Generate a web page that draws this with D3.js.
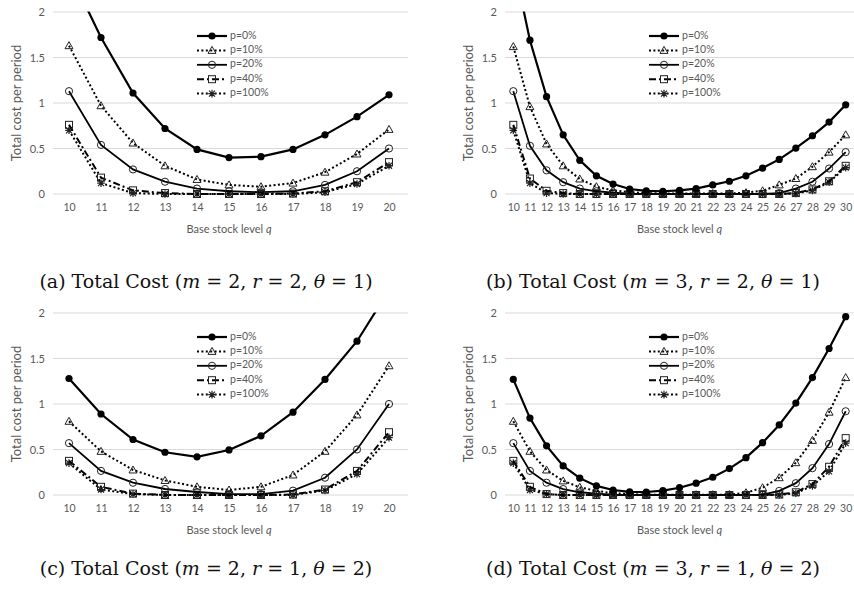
<!DOCTYPE html>
<html>
<head>
<meta charset="utf-8">
<script src="https://cdn.jsdelivr.net/npm/d3@7"></script>
<style>
body { margin: 0; background: #fff; }
text { font-family: Lato, "Open Sans", sans-serif; fill: #595959; }
text.caption { font-family: "DejaVu Serif", serif; fill: #111; }
</style>
</head>
<body>
<script>
// base stock levels
var qShort = [10, 11, 12, 13, 14, 15, 16, 17, 18, 19, 20];
var qLong = [10, 11, 12, 13, 14, 15, 16, 17, 18, 19, 20, 21, 22, 23, 24, 25, 26, 27, 28, 29, 30];

var seriesLabels = ["p=0%", "p=10%", "p=20%", "p=40%", "p=100%"];
var yTicks = [0, 0.5, 1, 1.5, 2];

// (a) m=2, r=2, theta=1
var aP0 = [2.45, 1.72, 1.11, 0.72, 0.49, 0.40, 0.41, 0.49, 0.65, 0.85, 1.09];
var aP10 = [1.63, 0.97, 0.56, 0.31, 0.16, 0.10, 0.08, 0.12, 0.24, 0.44, 0.71];
var aP20 = [1.13, 0.54, 0.27, 0.135, 0.06, 0.03, 0.02, 0.03, 0.10, 0.25, 0.50];
var aP40 = [0.76, 0.18, 0.04, 0.01, 0.0, 0.0, 0.0, 0.005, 0.03, 0.13, 0.35];
var aP100 = [0.70, 0.12, 0.01, 0.0, 0.0, 0.0, 0.0, 0.0, 0.02, 0.11, 0.31];

// (b) m=3, r=2, theta=1
var bP0 = [2.55, 1.69, 1.07, 0.65, 0.37, 0.20, 0.11, 0.055, 0.035, 0.03, 0.04, 0.06, 0.10, 0.14, 0.20, 0.285, 0.38, 0.505, 0.64, 0.79, 0.98];
var bP10 = [1.62, 0.96, 0.55, 0.31, 0.165, 0.08, 0.04, 0.02, 0.01, 0.005, 0.005, 0.005, 0.005, 0.005, 0.015, 0.035, 0.10, 0.17, 0.30, 0.46, 0.65];
var bP20 = [1.13, 0.53, 0.26, 0.13, 0.06, 0.03, 0.015, 0.005, 0.0, 0.0, 0.0, 0.0, 0.0, 0.0, 0.0, 0.0, 0.01, 0.06, 0.135, 0.28, 0.46];
var bP40 = [0.76, 0.17, 0.035, 0.01, 0.0, 0.0, 0.0, 0.0, 0.0, 0.0, 0.0, 0.0, 0.0, 0.0, 0.0, 0.0, 0.0, 0.01, 0.05, 0.14, 0.31];
var bP100 = [0.70, 0.12, 0.01, 0.0, 0.0, 0.0, 0.0, 0.0, 0.0, 0.0, 0.0, 0.0, 0.0, 0.0, 0.0, 0.0, 0.0, 0.005, 0.04, 0.13, 0.29];

// (c) m=2, r=1, theta=2
var cP0 = [1.28, 0.89, 0.61, 0.47, 0.42, 0.495, 0.65, 0.91, 1.27, 1.69, 2.25];
var cP10 = [0.81, 0.48, 0.275, 0.16, 0.09, 0.055, 0.09, 0.22, 0.48, 0.88, 1.42];
var cP20 = [0.57, 0.265, 0.135, 0.066, 0.033, 0.01, 0.01, 0.048, 0.19, 0.50, 1.0];
var cP40 = [0.375, 0.09, 0.015, 0.0, 0.0, 0.0, 0.0, 0.005, 0.06, 0.265, 0.69];
var cP100 = [0.35, 0.06, 0.01, 0.0, 0.0, 0.0, 0.0, 0.0, 0.05, 0.23, 0.63];

// (d) m=3, r=1, theta=2
var dP0 = [1.27, 0.845, 0.54, 0.32, 0.185, 0.10, 0.055, 0.035, 0.033, 0.048, 0.08, 0.13, 0.195, 0.29, 0.41, 0.575, 0.77, 1.01, 1.29, 1.61, 1.96];
var dP10 = [0.81, 0.48, 0.275, 0.155, 0.085, 0.045, 0.02, 0.01, 0.003, 0.003, 0.003, 0.003, 0.003, 0.005, 0.025, 0.08, 0.19, 0.355, 0.60, 0.91, 1.29];
var dP20 = [0.57, 0.265, 0.135, 0.065, 0.03, 0.015, 0.005, 0.0, 0.0, 0.0, 0.0, 0.0, 0.0, 0.0, 0.0, 0.005, 0.045, 0.13, 0.295, 0.56, 0.92];
var dP40 = [0.375, 0.09, 0.01, 0.0, 0.0, 0.0, 0.0, 0.0, 0.0, 0.0, 0.0, 0.0, 0.0, 0.0, 0.0, 0.0, 0.005, 0.03, 0.12, 0.31, 0.625];
var dP100 = [0.35, 0.055, 0.01, 0.0, 0.0, 0.0, 0.0, 0.0, 0.0, 0.0, 0.0, 0.0, 0.0, 0.0, 0.0, 0.0, 0.0, 0.02, 0.10, 0.26, 0.57];

var captions = [
    ["(a) Total Cost (", "m", " = 2, ", "r", " = 2, ", "θ", " = 1)"],
    ["(b) Total Cost (", "m", " = 3, ", "r", " = 2, ", "θ", " = 1)"],
    ["(c) Total Cost (", "m", " = 2, ", "r", " = 1, ", "θ", " = 2)"],
    ["(d) Total Cost (", "m", " = 3, ", "r", " = 1, ", "θ", " = 2)"]
];

var width = 854,
    height = 596;

// panel layout: left/top/width of the plot area
var panels = [
    {left: 53, top: 12, w: 352, q: qShort, series: [aP0, aP10, aP20, aP40, aP100], capX: 206, capY: 283},
    {left: 505, top: 12, w: 349, q: qLong, series: [bP0, bP10, bP20, bP40, bP100], capX: 653, capY: 283},
    {left: 53, top: 313, w: 352, q: qShort, series: [cP0, cP10, cP20, cP40, cP100], capX: 206, capY: 570},
    {left: 505, top: 313, w: 349, q: qLong, series: [dP0, dP10, dP20, dP40, dP100], capX: 653, capY: 570}
];
var plotH = 182;

// line + marker styles per series
var styles = [
    {dash: null, width: 2.2, marker: "dot"},
    {dash: "2,2.4", width: 2, marker: "triangle"},
    {dash: null, width: 1.8, marker: "circle"},
    {dash: "7,3,2,3", width: 2, marker: "square"},
    {dash: "2,2.4", width: 2, marker: "star"}
];

var svg = d3.select("body")
    .append("svg")
    .attr("width", width)
    .attr("height", height);

function drawMarker(g, type, x, y){
    if (type == "dot"){
        g.append("circle").attr("cx", x).attr("cy", y).attr("r", 3.6)
            .attr("fill", "#000");
    } else if (type == "circle"){
        g.append("circle").attr("cx", x).attr("cy", y).attr("r", 3.6)
            .attr("fill", "none").attr("stroke", "#222").attr("stroke-width", 1);
    } else if (type == "triangle"){
        g.append("path")
            .attr("d", "M0,-4L4,3L-4,3Z")
            .attr("transform", "translate(" + x + "," + y + ")")
            .attr("fill", "none").attr("stroke", "#222").attr("stroke-width", 1);
    } else if (type == "square"){
        g.append("rect").attr("x", x - 3.5).attr("y", y - 3.5)
            .attr("width", 7).attr("height", 7)
            .attr("fill", "none").attr("stroke", "#222").attr("stroke-width", 1);
    } else if (type == "star"){
        g.append("path")
            .attr("d", "M-3,-3L3,3M-3,3L3,-3M0,-3.8L0,3.8M-3.8,0L3.8,0")
            .attr("transform", "translate(" + x + "," + y + ")")
            .attr("fill", "none").attr("stroke", "#222").attr("stroke-width", 1.2);
    }
}

panels.forEach(function(p, pi){

    var g = svg.append("g");

    var x = d3.scalePoint()
        .domain(p.q)
        .range([p.left, p.left + p.w])
        .padding(0.5);

    var y = d3.scaleLinear()
        .domain([0, 2])
        .range([p.top + plotH, p.top]);

    //clip so lines stop at the top gridline
    svg.append("clipPath")
        .attr("id", "clip" + pi)
        .append("rect")
        .attr("x", p.left - 10)
        .attr("y", p.top - 0.5)
        .attr("width", p.w + 20)
        .attr("height", plotH + 10);

    //gridlines
    g.selectAll(".grid")
        .data(yTicks)
        .enter()
        .append("line")
        .attr("x1", p.left)
        .attr("x2", p.left + p.w + 3)
        .attr("y1", function(d){ return y(d); })
        .attr("y2", function(d){ return y(d); })
        .attr("stroke", "#d9d9d9")
        .attr("stroke-width", 1);

    //y tick labels
    var yAxis = d3.axisLeft(y).tickValues(yTicks).tickSize(0).tickPadding(8)
        .tickFormat(function(d){ return d; });
    g.append("g")
        .attr("transform", "translate(" + p.left + ",0)")
        .call(yAxis)
        .call(function(a){ a.select(".domain").remove(); })
        .selectAll("text")
        .attr("font-size", 11)
        .style("font-family", "Lato, 'Open Sans', sans-serif")
        .attr("fill", "#595959");

    //x tick labels
    var xAxis = d3.axisBottom(x).tickSize(0).tickPadding(10);
    g.append("g")
        .attr("transform", "translate(0," + (p.top + plotH) + ")")
        .call(xAxis)
        .call(function(a){ a.select(".domain").remove(); })
        .selectAll("text")
        .attr("font-size", 10.5)
        .style("font-family", "Lato, 'Open Sans', sans-serif")
        .attr("fill", "#595959");

    //axis titles
    g.append("text")
        .attr("transform", "translate(" + (p.left - 35) + "," + (p.top + plotH / 2) + ") rotate(-90)")
        .attr("text-anchor", "middle")
        .attr("dominant-baseline", "middle")
        .attr("font-size", 13)
        .text("Total cost per period");

    var xt = g.append("text")
        .attr("x", p.left + p.w / 2)
        .attr("y", p.top + plotH + 39)
        .attr("text-anchor", "middle")
        .attr("font-size", 11);
    xt.append("tspan").text("Base stock level ");
    xt.append("tspan").attr("font-style", "italic").text("q");

    //series
    var plot = g.append("g").attr("clip-path", "url(#clip" + pi + ")");
    var line = d3.line()
        .x(function(d, i){ return x(p.q[i]); })
        .y(function(d){ return y(d); });

    p.series.slice().reverse().forEach(function(vals, ri){
        var si = p.series.length - 1 - ri;
        var st = styles[si];
        plot.append("path")
            .datum(vals)
            .attr("d", line)
            .attr("fill", "none")
            .attr("stroke", "#000")
            .attr("stroke-width", st.width)
            .attr("stroke-dasharray", st.dash);
        vals.forEach(function(v, i){
            drawMarker(plot, st.marker, x(p.q[i]), y(v));
        });
    });

    //legend
    var leg = g.append("g");
    seriesLabels.forEach(function(lab, i){
        var st = styles[i];
        var ly = p.top + 24 + i * 14.4;
        leg.append("line")
            .attr("x1", p.left + 144)
            .attr("x2", p.left + 174)
            .attr("y1", ly)
            .attr("y2", ly)
            .attr("stroke", "#000")
            .attr("stroke-width", st.width)
            .attr("stroke-dasharray", st.dash);
        drawMarker(leg, st.marker, p.left + 159, ly);
        leg.append("text")
            .attr("x", p.left + 177)
            .attr("y", ly)
            .attr("dominant-baseline", "middle")
            .attr("font-size", 10.5)
            .text(lab);
    });

    //caption
    var cap = svg.append("text")
        .attr("class", "caption")
        .attr("x", p.capX)
        .attr("y", p.capY)
        .attr("text-anchor", "middle")
        .attr("dominant-baseline", "middle")
        .attr("font-size", 19);
    captions[pi].forEach(function(part){
        var t = cap.append("tspan").text(part);
        if (part == "m" || part == "r" || part == "θ") t.attr("font-style", "italic");
    });
});
</script>
</body>
</html>
